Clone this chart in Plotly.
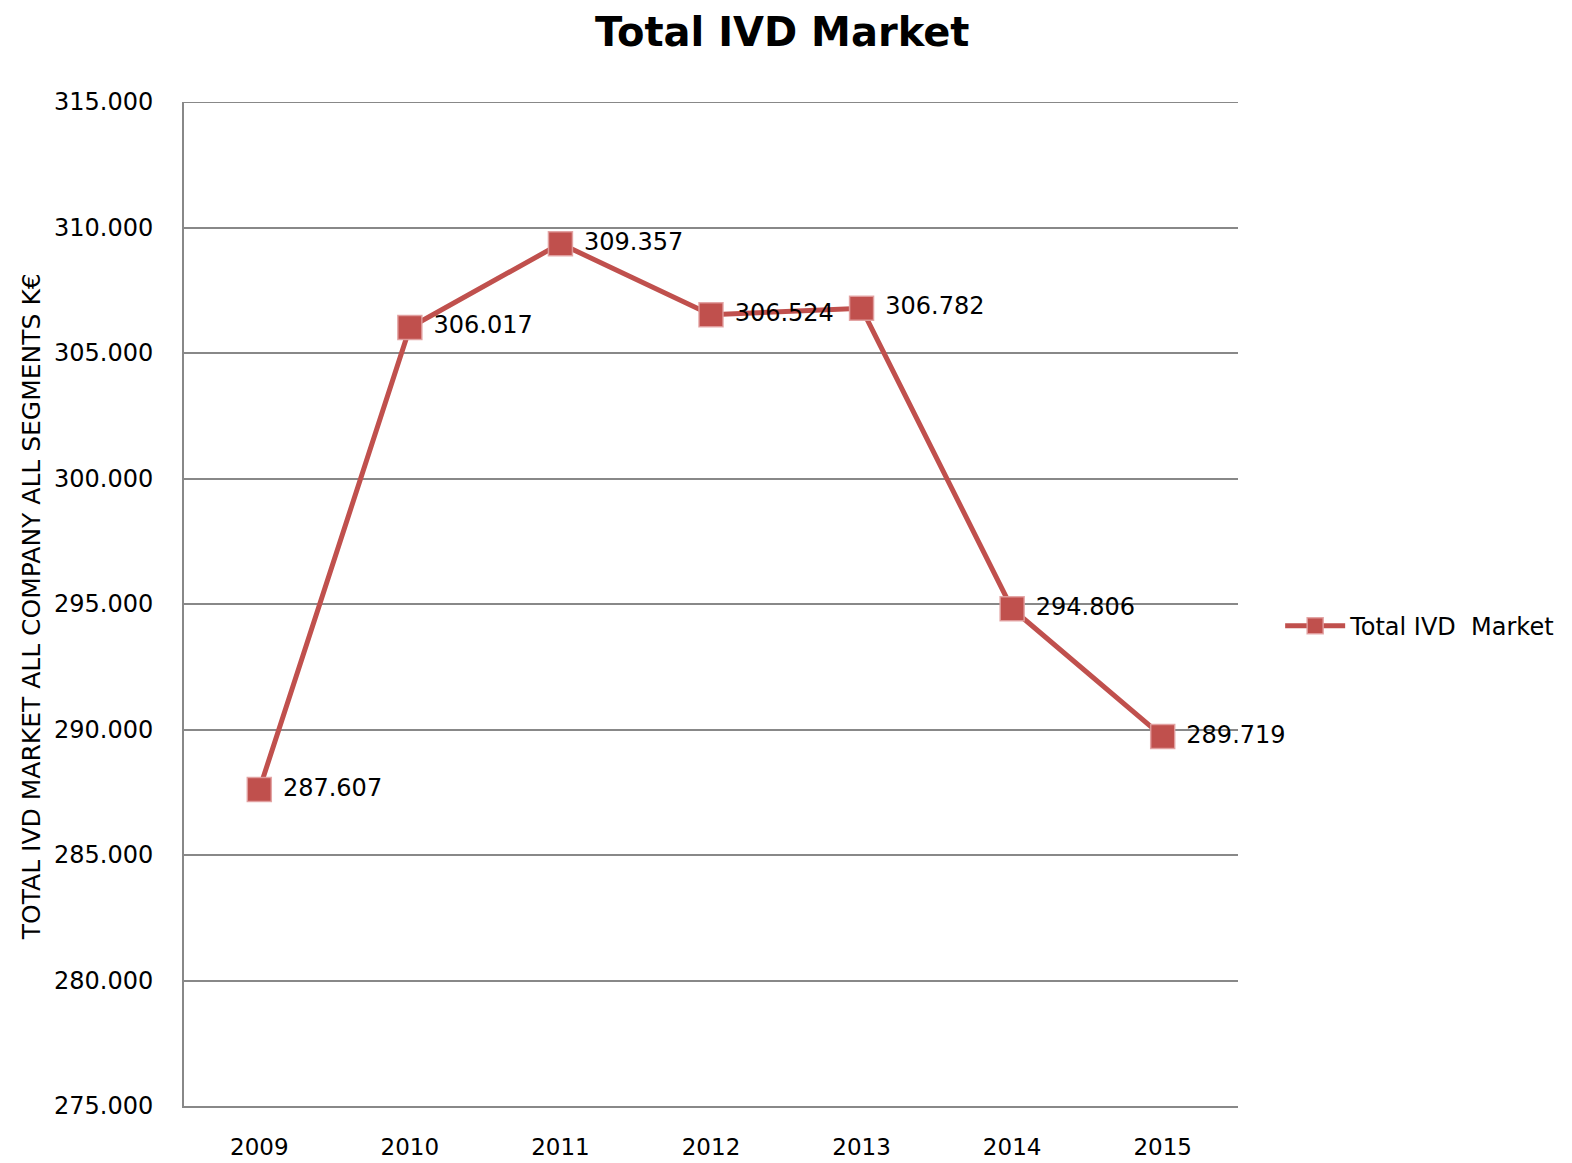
import plotly.graph_objects as go

years = ["2009", "2010", "2011", "2012", "2013", "2014", "2015"]
values = [287.607, 306.017, 309.357, 306.524, 306.782, 294.806, 289.719]
y_ticks = [275, 280, 285, 290, 295, 300, 305, 310, 315]

color = "#C0504D"
font_fam = "DejaVu Sans, Liberation Sans, sans-serif"

fig = go.Figure()
fig.add_trace(go.Scatter(
    x=years, y=values, mode="lines+markers+text",
    name="Total IVD  Market",
    line=dict(color=color, width=5),
    marker=dict(symbol="square", size=24, color=color,
                line=dict(color="rgba(225,160,160,0.9)", width=1.5)),
    text=[" " + f"{v:.3f}" for v in values],
    textposition="middle right",
    textfont=dict(family=font_fam, size=24, color="#000000"),
    cliponaxis=False,
))

fig.update_layout(
    width=1564, height=1155,
    paper_bgcolor="white", plot_bgcolor="white",
    margin=dict(l=176, r=334, t=94, b=57),
    title=dict(text="<b>Total IVD Market</b>", x=0.495, xanchor="center",
               y=0.979, yanchor="middle", automargin=False,
               font=dict(family=font_fam, size=40, color="#000000")),
    showlegend=True,
    legend=dict(x=1.04, y=0.478, xanchor="left", yanchor="middle",
                itemwidth=60,
                font=dict(family=font_fam, size=24, color="#000000"),
                bgcolor="rgba(0,0,0,0)"),
    xaxis=dict(type="category", range=[-0.5, 6.5], automargin=False,
               showgrid=False, showline=True, linecolor="#888888", linewidth=2,
               ticks="", tickfont=dict(family=font_fam, size=23, color="#000000"),
               ticklabelstandoff=19),
    yaxis=dict(range=[275, 315], tickvals=y_ticks, automargin=False,
               ticktext=[f"{t:.3f}" for t in y_ticks],
               showgrid=True, gridcolor="#888888", gridwidth=2,
               showline=True, linecolor="#888888", linewidth=2,
               zeroline=False, ticks="",
               tickfont=dict(family=font_fam, size=24, color="#000000"),
               ticklabelstandoff=24),
    annotations=[dict(text="TOTAL IVD MARKET ALL COMPANY ALL SEGMENTS K€",
                      xref="paper", yref="paper", x=-0.145, y=0.497,
                      xanchor="center", yanchor="middle", textangle=-90,
                      showarrow=False,
                      font=dict(family=font_fam, size=25, color="#000000"))],
    shapes=[dict(type="line", xref="paper", yref="y", x0=0, x1=1, y0=315, y1=315,
                 line=dict(color="#888888", width=2), layer="below")],
)

fig.write_html("out.html")
